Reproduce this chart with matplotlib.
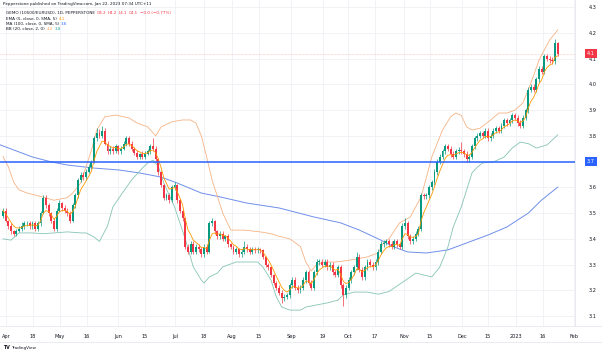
import matplotlib
matplotlib.use("Agg")
import matplotlib.pyplot as plt
import numpy as np
import pandas as pd

# ---------------- data ----------------
closes = [
    3.51, 3.47, 3.45, 3.43, 3.42, 3.43, 3.44, 3.45, 3.46, 3.46,
    3.45, 3.46, 3.44, 3.46, 3.50, 3.56, 3.53, 3.50, 3.47, 3.44,
    3.51, 3.54, 3.52, 3.51, 3.50, 3.47, 3.53, 3.57, 3.63, 3.65,
    3.64, 3.66, 3.68, 3.70, 3.79, 3.81, 3.80, 3.82, 3.77, 3.74,
    3.75, 3.74, 3.76, 3.74, 3.75, 3.77, 3.79, 3.77, 3.75, 3.735,
    3.72, 3.73, 3.72, 3.73, 3.74, 3.76, 3.75, 3.71, 3.66, 3.61,
    3.56, 3.57, 3.55, 3.60, 3.61, 3.55, 3.51, 3.48, 3.37, 3.35,
    3.38, 3.35, 3.37, 3.36, 3.34, 3.37, 3.35, 3.46, 3.47, 3.43,
    3.41, 3.42, 3.40, 3.41, 3.38, 3.37, 3.35, 3.36, 3.34, 3.35,
    3.37, 3.36, 3.35, 3.36, 3.355, 3.36, 3.355, 3.33, 3.30, 3.29,
    3.26, 3.23, 3.21, 3.19, 3.17, 3.175, 3.18, 3.22, 3.24, 3.21,
    3.20, 3.21, 3.24, 3.27, 3.23, 3.21, 3.27, 3.31, 3.31, 3.30,
    3.31, 3.29, 3.30, 3.27, 3.26, 3.29, 3.22, 3.18, 3.21, 3.24,
    3.27, 3.29, 3.33, 3.28, 3.25, 3.29, 3.31, 3.30, 3.29, 3.31,
    3.35, 3.38, 3.385, 3.39, 3.38, 3.37, 3.39, 3.38, 3.37, 3.45,
    3.46, 3.41, 3.39, 3.40, 3.42, 3.44, 3.57, 3.565, 3.57, 3.60,
    3.62, 3.66, 3.70, 3.72, 3.74, 3.76, 3.75, 3.73, 3.72, 3.74,
    3.745, 3.74, 3.73, 3.71, 3.72, 3.76, 3.79, 3.80, 3.81, 3.80,
    3.82, 3.79, 3.80, 3.82, 3.83, 3.82, 3.84, 3.86, 3.85, 3.86,
    3.88, 3.87, 3.85, 3.84, 3.87, 3.90, 3.98, 3.99, 3.98, 4.02,
    4.06, 4.05, 4.11, 4.10, 4.095, 4.09, 4.16, 4.12,
]

opens = [
    3.49, 3.51, 3.47, 3.45, 3.43, 3.42, 3.43, 3.44, 3.45, 3.46,
    3.46, 3.45, 3.46, 3.44, 3.46, 3.50, 3.56, 3.53, 3.50, 3.47,
    3.44, 3.51, 3.54, 3.52, 3.51, 3.50, 3.47, 3.53, 3.57, 3.63,
    3.65, 3.64, 3.66, 3.68, 3.70, 3.79, 3.81, 3.80, 3.82, 3.77,
    3.74, 3.75, 3.74, 3.76, 3.74, 3.75, 3.77, 3.79, 3.77, 3.75,
    3.735, 3.72, 3.73, 3.72, 3.73, 3.74, 3.76, 3.75, 3.71, 3.66,
    3.61, 3.56, 3.57, 3.55, 3.60, 3.61, 3.55, 3.51, 3.48, 3.37,
    3.35, 3.38, 3.35, 3.37, 3.36, 3.34, 3.37, 3.35, 3.46, 3.47,
    3.43, 3.41, 3.42, 3.40, 3.41, 3.38, 3.37, 3.35, 3.36, 3.34,
    3.35, 3.37, 3.36, 3.35, 3.36, 3.355, 3.36, 3.355, 3.33, 3.30,
    3.29, 3.26, 3.23, 3.21, 3.19, 3.17, 3.175, 3.18, 3.22, 3.24,
    3.21, 3.20, 3.21, 3.24, 3.27, 3.23, 3.21, 3.27, 3.31, 3.31,
    3.30, 3.31, 3.29, 3.30, 3.27, 3.26, 3.29, 3.22, 3.18, 3.21,
    3.24, 3.27, 3.29, 3.33, 3.28, 3.25, 3.29, 3.31, 3.30, 3.29,
    3.31, 3.35, 3.38, 3.385, 3.39, 3.38, 3.37, 3.39, 3.38, 3.37,
    3.45, 3.46, 3.41, 3.39, 3.40, 3.42, 3.44, 3.57, 3.565, 3.57,
    3.60, 3.62, 3.66, 3.70, 3.72, 3.74, 3.76, 3.75, 3.73, 3.72,
    3.74, 3.745, 3.74, 3.73, 3.71, 3.72, 3.76, 3.79, 3.80, 3.81,
    3.80, 3.82, 3.79, 3.80, 3.82, 3.83, 3.82, 3.84, 3.86, 3.85,
    3.86, 3.88, 3.87, 3.85, 3.84, 3.87, 3.90, 3.98, 3.99, 3.98,
    4.02, 4.06, 4.05, 4.11, 4.10, 4.095, 4.09, 4.16,
]

wick_up = [
    .01, .01, .005, .01, .005, .01, .01, .015, .01, .01,
    .01, .01, .01, .01, .01, .01, .01, .01, .005, .01,
    .01, .01, .005, .01, .01, .01, .01, .01, .005, .01,
    .01, .01, .01, .005, .01, .02, .015, .02, .01, .01,
    .01, .01, .01, .005, .01, .01, .01, .01, .01, .005,
    .01, .005, .01, .01, .01, .01, .03, .01, .005, .005,
    .005, .01, .01, .01, .01, .005, .005, .005, .005, .01,
    .01, .01, .01, .01, .01, .01, .01, .01, .01, .005,
    .005, .01, .01, .005, .01, .005, .005, .01, .005, .01,
    .02, .01, .01, .01, .01, .01, .005, .005, .005, .005,
    .005, .005, .005, .01, .01, .01, .01, .01, .01, .01,
    .01, .01, .01, .01, .01, .01, .01, .01, .01, .01,
    .01, .01, .01, .01, .01, .01, .01, .01, .01, .01,
    .01, .01, .02, .01, .01, .01, .01, .01, .01, .01,
    .01, .01, .01, .01, .01, .01, .01, .01, .005, .01,
    .02, .01, .01, .01, .01, .01, .01, .01, .01, .01,
    .01, .01, .01, .01, .01, .01, .01, .01, .01, .01,
    .01, .03, .01, .01, .01, .01, .01, .01, .01, .01,
    .01, .01, .01, .01, .01, .01, .01, .01, .01, .01,
    .01, .01, .01, .01, .01, .01, .01, .01, .01, .01,
    .01, .01, .01, .01, .01, .01, .015, .005,
]

wick_dn = [
    .01, .005, .01, .01, .01, .01, .005, .01, .01, .01,
    .01, .01, .01, .01, .01, .005, .01, .01, .01, .01,
    .01, .005, .01, .01, .01, .01, .005, .01, .01, .01,
    .01, .01, .005, .01, .005, .01, .01, .01, .005, .01,
    .01, .01, .005, .01, .01, .005, .01, .01, .01, .01,
    .01, .01, .01, .01, .005, .01, .01, .01, .01, .01,
    .01, .01, .01, .005, .01, .01, .01, .01, .01, .01,
    .01, .01, .01, .01, .01, .01, .01, .005, .01, .01,
    .01, .01, .01, .01, .01, .01, .01, .01, .01, .01,
    .01, .01, .01, .01, .01, .01, .01, .01, .01, .01,
    .01, .01, .01, .01, .02, .01, .01, .01, .01, .01,
    .01, .01, .01, .01, .01, .01, .01, .01, .01, .01,
    .01, .01, .01, .01, .01, .01, .01, .04, .01, .01,
    .01, .01, .01, .01, .01, .01, .01, .01, .01, .01,
    .01, .01, .01, .01, .01, .01, .01, .01, .01, .01,
    .01, .01, .01, .01, .01, .01, .01, .01, .01, .01,
    .01, .01, .01, .01, .01, .01, .01, .01, .01, .01,
    .01, .01, .01, .01, .01, .01, .01, .01, .01, .01,
    .01, .01, .01, .01, .01, .01, .01, .01, .01, .01,
    .01, .01, .01, .01, .01, .01, .01, .01, .01, .01,
    .01, .01, .01, .01, .01, .01, .01, .01,
]

bb_upper_bar = [0, 2, 4, 6, 9, 14, 19, 24, 26, 29, 31, 33, 35, 38, 42, 47, 50, 54, 57, 59,
                63, 67, 70, 72, 74, 76, 78, 82, 85, 90, 96, 100, 103, 107, 111, 113, 115, 117, 120, 124,
                128, 131, 136, 140, 142, 144, 148, 152, 156, 158, 160, 164, 167, 169, 171, 173, 175, 178, 182, 185,
                188, 191, 194, 197, 200, 204, 207]
bb_upper = [3.72, 3.68, 3.62, 3.59, 3.578, 3.565, 3.55, 3.56, 3.578, 3.617, 3.68, 3.745, 3.823, 3.874, 3.881,
            3.87, 3.85, 3.835, 3.80, 3.835, 3.855, 3.862, 3.862, 3.85, 3.80, 3.718, 3.629, 3.50, 3.434, 3.434,
            3.427, 3.42, 3.41, 3.40, 3.37, 3.31, 3.275, 3.30, 3.31, 3.31, 3.315, 3.32, 3.33, 3.345, 3.385,
            3.40, 3.462, 3.485, 3.563, 3.64, 3.718, 3.823, 3.874, 3.889, 3.88, 3.835, 3.823, 3.83, 3.862, 3.889,
            3.889, 3.90, 3.928, 4.006, 4.095, 4.173, 4.212]

bb_lower_bar = [0, 3, 6, 11, 15, 19, 24, 29, 31, 34, 36, 39, 41, 44, 48, 52, 54, 56, 58, 60,
                64, 68, 71, 74, 75, 77, 80, 82, 87, 95, 97, 100, 102, 104, 107, 111, 113, 121, 125, 127,
                131, 136, 140, 144, 152, 154, 160, 163, 166, 168, 171, 173, 175, 177, 179, 183, 187, 190, 193, 196,
                199, 203, 207]
bb_lower = [3.40, 3.395, 3.423, 3.423, 3.42, 3.423, 3.427, 3.423, 3.423, 3.407, 3.39, 3.45, 3.524, 3.57, 3.629,
            3.675, 3.695, 3.706, 3.68, 3.617, 3.524, 3.40, 3.291, 3.24, 3.228, 3.252, 3.267, 3.291, 3.31, 3.31,
            3.29, 3.24, 3.174, 3.135, 3.123, 3.123, 3.135, 3.151, 3.162, 3.182, 3.193, 3.193, 3.185, 3.195, 3.252,
            3.267, 3.252, 3.291, 3.368, 3.446, 3.524, 3.59, 3.656, 3.679, 3.695, 3.699, 3.718, 3.753, 3.776, 3.77,
            3.753, 3.765, 3.804]

ma100_bar = [-1, 11, 18, 24, 34, 43, 51, 59, 65, 74, 81, 91, 103, 116, 126, 133, 141, 146, 151, 158,
             166, 173, 181, 188, 196, 201, 207]
ma100 = [3.765, 3.718, 3.699, 3.687, 3.675, 3.668, 3.656, 3.64, 3.617, 3.578, 3.563, 3.539, 3.52, 3.485,
         3.462, 3.434, 3.395, 3.368, 3.349, 3.345, 3.357, 3.384, 3.415, 3.446, 3.50, 3.551, 3.601]

hline_level = 3.7
last_price = 4.12

xtick_bar = [1.2, 11.2, 21.3, 31.3, 42.9, 53.0, 64.2, 75.0, 85.4, 95.5, 107.5, 119.4, 128.7,
             138.8, 149.6, 159.3, 171.3, 181.0, 191.4, 201.5, 213.0]
xtick_labels = ["Apr", "18", "May", "16", "Jun", "15", "Jul", "18", "Aug", "15", "Sep", "19",
                "Oct", "17", "Nov", "15", "Dec", "15", "2023", "16", "Feb"]
price_ticks = [3.1, 3.2, 3.3, 3.4, 3.5, 3.6, 3.7, 3.8, 3.9, 4.0, 4.1, 4.2, 4.3]

# ---------------- style ----------------
UP = "#089981"
DN = "#F23645"
TXT = "#131722"
GRID = "#EEF0F5"

W, H = 602, 352
fig = plt.figure(figsize=(W / 100, H / 100), dpi=100)
fig.patch.set_facecolor("white")
ax = fig.add_axes([0, 1 - 326 / H, 575 / W, 326 / H])
ax.set_facecolor("white")

o = np.array(opens)
c = np.array(closes)
x = np.arange(len(c))
hi = np.maximum(o, c) + np.array(wick_up)
lo = np.minimum(o, c) - np.array(wick_dn)
col = np.where(c >= o, UP, DN)

# grid
for xt in xtick_bar:
    ax.axvline(xt, color=GRID, lw=0.6, zorder=0)
for pt in price_ticks:
    ax.axhline(pt, color=GRID, lw=0.6, zorder=0)

# indicators
ema5 = pd.Series(closes).ewm(span=5, adjust=False).mean()
ax.plot(ma100_bar, ma100, color="#6F8FEA", lw=0.7, zorder=2)
ax.plot(bb_upper_bar, bb_upper, color="#F6B384", lw=0.6, zorder=2)
ax.plot(bb_lower_bar, bb_lower, color="#86C4B3", lw=0.6, zorder=2)

# candles
ax.vlines(x, lo, hi, colors=col, lw=0.5, zorder=3)
body = np.maximum(np.abs(c - o), 0.003)
ax.bar(x, body, bottom=np.minimum(o, c), width=0.72, color=col, lw=0, zorder=4)

ax.plot(x, ema5, color="#FF9800", lw=0.6, zorder=5)

# horizontal levels
ax.axhline(hline_level, color="#2962FF", lw=1.1, zorder=6)
ax.axhline(last_price, color=DN, lw=0.4, ls=(0, (1, 1.5)), alpha=0.5, zorder=1)

ax.set_xlim((0 - 3) / 2.68, (575 - 3) / 2.68)
ax.set_ylim(4.2 - (326 - 33) / 257.3, 4.2 + 33 / 257.3)

for s in ["top", "left", "bottom"]:
    ax.spines[s].set_visible(False)
ax.spines["right"].set_color("#E0E3EB")
ax.spines["right"].set_linewidth(0.5)

ax.set_xticks(xtick_bar)
ax.set_xticklabels(xtick_labels)
ax.tick_params(axis="x", length=0, pad=6, labelsize=3.6, labelcolor=TXT)
ax.yaxis.tick_right()
ax.set_yticks(price_ticks)
# the 3.7 tick is covered by the blue level label in the reference
ax.set_yticklabels(["" if abs(v - hline_level) < 1e-9 else f"{v:.1f}" for v in price_ticks])
ax.tick_params(axis="y", length=0, pad=10, labelsize=3.6, labelcolor=TXT)

# bottom axis lines
fig.add_artist(plt.Line2D([0, 1], [1 - 326 / H, 1 - 326 / H], color="#E0E3EB", lw=0.5))
fig.add_artist(plt.Line2D([0, 1], [1 - 342 / H, 1 - 342 / H], color="#E0E3EB", lw=0.5))

# price labels
for val, fc in [(last_price, DN), (hline_level, "#2962FF")]:
    ax.annotate(f"{val:.1f}", xy=(591 / 575, val), xycoords=("axes fraction", "data"),
                ha="center", va="center", fontsize=3.6, color="white", annotation_clip=False,
                bbox=dict(boxstyle="square,pad=0.35", fc=fc, ec="none"), zorder=10)


# header / legend
def chain(x_px, y_px, segments, size):
    t = fig.text(x_px / W, 1 - y_px / H, segments[0][0], color=segments[0][1],
                 fontsize=size, ha="left", va="center")
    prev = t
    for s, cc in segments[1:]:
        prev = ax.annotate(s, xy=(1, 0.5), xycoords=prev, xytext=(1.2, 0),
                           textcoords="offset points", ha="left", va="center",
                           fontsize=size, color=cc, annotation_clip=False)


chain(3, 4.5, [("Pepperstone published on TradingView.com, Jan 22, 2023 07:34 UTC+11", TXT)], 3.0)
chain(6, 13.5, [("GEMO (10500/EURUSD), 1D, PEPPERSTONE", TXT), ("O4.2", DN), ("H4.2", DN),
                ("L4.1", DN), ("C4.1", DN), ("\u22120.0 (\u22120.77%)", DN)], 3.0)
chain(6, 19, [("EMA (5, close, 0, SMA, 5)", TXT), ("4.1", "#FF9800")], 3.0)
chain(6, 24.3, [("MA (100, close, 0, SMA, 5)", TXT), ("3.6", "#2962FF")], 3.0)
chain(6, 29.5, [("BB (20, close, 2, 0)", TXT), ("4.2", "#F7A35C"), ("3.8", "#26A69A")], 3.0)

fig.text(3 / W, 1 - 347.5 / H, "TV", fontsize=3.4, fontweight="bold", color=TXT, ha="left", va="center")
fig.text(11 / W, 1 - 347.5 / H, "TradingView", fontsize=3.0, color=TXT, ha="left", va="center")

fig.savefig("out.png", dpi=100, facecolor="white")
